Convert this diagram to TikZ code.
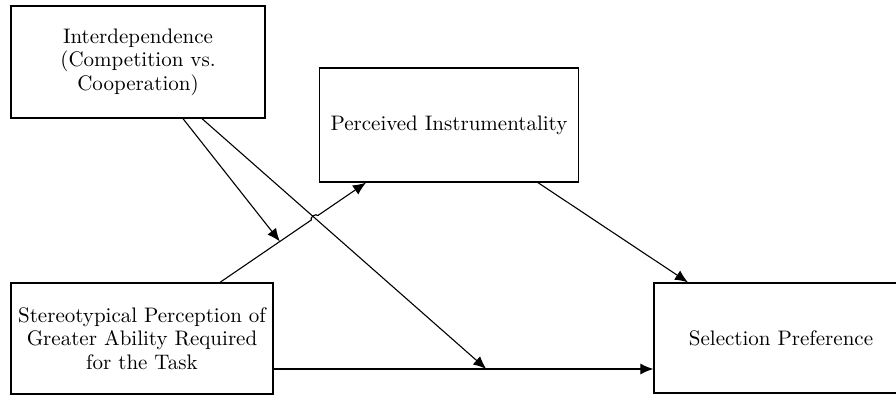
\documentclass[tikz,border=0pt]{standalone}
\usepackage{fontspec}
\setmainfont{lmroman10-regular.otf}
\usepackage{tikz}
\usetikzlibrary{arrows.meta,calc}

\begin{document}
\begin{tikzpicture}[x=1pt,y=-1pt,
    caja/.style={draw,line width=1.3pt,align=center,inner sep=0pt,
        font=\fontsize{21}{23.5}\selectfont},
    flecha/.style={line width=1.1pt,-{Latex[length=13pt,width=11pt]}}]
    \useasboundingbox (0,0) rectangle (896,396);
    \clip (0,0) rectangle (896,396);

    % Cajas
    \node[caja,minimum width=254pt,minimum height=112pt] (inter) at (138,62)
        {Interdependence\\(Competition vs.\\Cooperation)};
    \node[caja,minimum width=259pt,minimum height=114pt] (percib) at (449,125)
        {Perceived Instrumentality};
    \node[caja,minimum width=262pt,minimum height=111pt] (estereo) at (142,338.5)
        {Stereotypical Perception of\\Greater Ability Required\\for the Task};
    \node[caja,minimum width=254pt,minimum height=110pt] (selec) at (781,338)
        {Selection Preference};

    % Puntos de salida y llegada
    \coordinate (s1) at ([xshift=78pt]estereo.north);
    \coordinate (p1) at ([xshift=-83pt]percib.south);
    \coordinate (p2) at ([xshift=89pt]percib.south);
    \coordinate (d1) at ([xshift=-93pt]selec.north);
    \coordinate (s2) at ([yshift=-30.5pt]estereo.east);
    \coordinate (d2) at (selec.west |- s2);
    \coordinate (i1) at ([xshift=45pt]inter.south);
    \coordinate (i2) at ([xshift=64pt]inter.south);
    \coordinate (m1) at ($(s1)!0.41!(p1)$);
    \coordinate (m2) at ($(s2)!0.56!(d2)$);
    \coordinate (x) at (intersection of i2--m2 and s1--p1);

    % Flechas
    \draw[flecha] (s1) -- ($(x)!4pt!(s1)$) to[bend left=90] ($(x)!4pt!(p1)$) -- (p1);
    \draw[flecha] (p2) -- (d1);
    \draw[flecha] (s2) -- (d2);
    \draw[flecha] (i1) -- (m1);
    \draw[flecha] (i2) -- (m2);
\end{tikzpicture}
\end{document}
